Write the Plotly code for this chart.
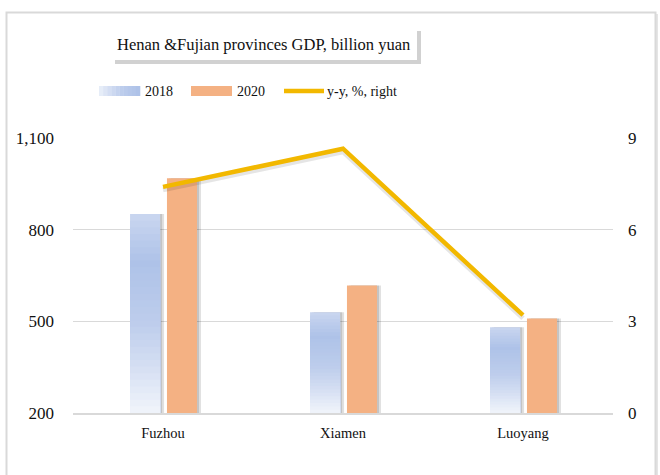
import plotly.graph_objects as go

# ── Data ─────────────────────────────────────────────────────────────────────
cities = ["Fuzhou", "Xiamen", "Luoyang"]
gdp_2018 = [851, 530, 481]
gdp_2020 = [968, 617, 509]
yoy_pct = [7.4, 8.65, 3.2]

left_ticks = [200, 500, 800, 1100]
right_ticks = [0, 3, 6, 9]

# ── Style ────────────────────────────────────────────────────────────────────
FONT = "Liberation Serif"
ORANGE = "#F4B183"
GOLD = "#F2B800"
GRID = "#D9D9D9"
TEXT = "#111111"
BASE = 200

# vertical gradient of the 2018 bars (t = 0 bottom, 1 top)
GRAD_2018 = [
    (0.0, (241, 245, 251)),
    (0.23, (213, 223, 243)),
    (0.455, (189, 205, 236)),
    (0.76, (174, 194, 232)),
    (1.0, (202, 214, 239)),
]
N_SLICES = 30

# plot-area pixel box (660x475 canvas)
L, R, T, B = 73, 613, 138, 413
W, H = 660, 475


def px(x):
    return (x - L) / (R - L)


def py(y):
    return (B - y) / (B - T)


def grad_color(t, stops=GRAD_2018):
    for (t0, c0), (t1, c1) in zip(stops, stops[1:]):
        if t <= t1:
            f = (t - t0) / (t1 - t0)
            c = [round(a + (b - a) * f) for a, b in zip(c0, c1)]
            return "rgb({},{},{})".format(*c)
    return "rgb({},{},{})".format(*stops[-1][1])


BAR_W = 0.167
OFF_18 = -0.183
OFF_20 = 0.022
SHADOW_STEP = 0.011  # ~2px in category units
LINE_SHADOW = 3 * 9 / (B - T)  # ~3px on the right axis

fig = go.Figure()

# drop shadows behind the bars
for off, vals in [(OFF_18, gdp_2018), (OFF_20, gdp_2020)]:
    for k in (2, 1):
        fig.add_trace(go.Bar(x=cities, y=[v - BASE for v in vals], base=BASE,
                             offset=off + k * SHADOW_STEP, width=BAR_W,
                             marker=dict(color="rgba(0,0,0,0.12)", line_width=0),
                             showlegend=False, hoverinfo="skip"))

# 2018: overlapping bars of decreasing height fake the vertical gradient
for k in range(N_SLICES):
    frac = (N_SLICES - k) / N_SLICES
    fig.add_trace(go.Bar(x=cities, y=[(v - BASE) * frac for v in gdp_2018], base=BASE,
                         offset=OFF_18, width=BAR_W,
                         marker=dict(color=grad_color(frac - 0.5 / N_SLICES), line_width=0),
                         showlegend=False, hoverinfo="skip"))

# 2020
fig.add_trace(go.Bar(x=cities, y=[v - BASE for v in gdp_2020], base=BASE,
                     offset=OFF_20, width=BAR_W, name="2020",
                     marker=dict(color=ORANGE, line_width=0), showlegend=False))

# y-y line on the right axis (with a faint shadow underneath)
fig.add_trace(go.Scatter(x=cities, y=[v - LINE_SHADOW for v in yoy_pct], mode="lines", yaxis="y2",
                         line=dict(color="rgba(0,0,0,0.10)", width=5),
                         showlegend=False, hoverinfo="skip"))
fig.add_trace(go.Scatter(x=cities, y=yoy_pct, mode="lines", yaxis="y2", name="y-y, %, right",
                         line=dict(color=GOLD, width=4.5), showlegend=False))

# ── Decorations: frame, title box, legend ────────────────────────────────────
shapes = [
    dict(type="rect", xref="paper", yref="paper", layer="below",
         x0=px(9), x1=px(658), y0=py(14), y1=py(490),
         fillcolor="rgba(0,0,0,0.10)", line_width=0),
    dict(type="rect", xref="paper", yref="paper", layer="below",
         x0=px(6.5), x1=px(655.5), y0=py(12.5), y1=py(490),
         fillcolor="white", line=dict(color=GRID, width=2)),
    dict(type="rect", xref="paper", yref="paper", layer="above",
         x0=px(115), x1=px(421), y0=py(31), y1=py(64),
         fillcolor="rgba(0,0,0,0.18)", line_width=0),
    dict(type="rect", xref="paper", yref="paper", layer="above",
         x0=px(112), x1=px(417), y0=py(28), y1=py(60),
         fillcolor="white", line_width=0),
]

# legend swatches
n_sw = 10
for j in range(n_sw):
    x0 = 99 + 41 * j / n_sw
    shapes.append(dict(type="rect", xref="paper", yref="paper",
                       x0=px(x0), x1=px(x0 + 41 / n_sw + 0.3), y0=py(86), y1=py(96),
                       fillcolor=grad_color(0.05 + 0.75 * (j + 0.5) / n_sw), line_width=0))
shapes.append(dict(type="rect", xref="paper", yref="paper",
                   x0=px(191), x1=px(232), y0=py(86), y1=py(96),
                   fillcolor=ORANGE, line_width=0))
shapes.append(dict(type="line", xref="paper", yref="paper",
                   x0=px(284), x1=px(324), y0=py(91), y1=py(91),
                   line=dict(color=GOLD, width=4.5)))

annotations = [
    dict(text="Henan &Fujian provinces GDP, billion yuan", xref="paper", yref="paper",
         x=px(263), y=py(44), showarrow=False, xanchor="center", yanchor="middle",
         font=dict(family=FONT, size=16.5, color=TEXT)),
]
for label, x in [("2018", 143), ("2020", 235), ("y-y, %, right", 325)]:
    annotations.append(dict(text=label, xref="paper", yref="paper", x=px(x), y=py(91),
                            showarrow=False, xanchor="left", yanchor="middle",
                            font=dict(family=FONT, size=14, color=TEXT)))

fig.update_layout(
    width=W, height=H,
    margin=dict(l=L, r=W - R, t=T, b=H - B),
    paper_bgcolor="white",
    plot_bgcolor="rgba(0,0,0,0)",
    font=dict(family=FONT, color=TEXT),
    barmode="overlay",
    showlegend=False,
    shapes=shapes,
    annotations=annotations,
    xaxis=dict(range=[-0.5, 2.5], showgrid=False, showline=True, linecolor=GRID, linewidth=1.5,
               ticks="", tickfont=dict(size=14.5), ticklabelstandoff=6),
    yaxis=dict(range=[200, 1100], tickvals=left_ticks, tickformat=",", showgrid=True,
               gridcolor=GRID, gridwidth=1, zeroline=False, showline=False,
               tickfont=dict(size=17), ticklabelstandoff=18),
    yaxis2=dict(range=[0, 9], tickvals=right_ticks, overlaying="y", side="right",
                showgrid=False, zeroline=False, showline=False,
                tickfont=dict(size=17), ticklabelstandoff=14),
)

fig.write_html("out.html", config={"displayModeBar": False},
               post_script="document.body.style.margin='0';")
